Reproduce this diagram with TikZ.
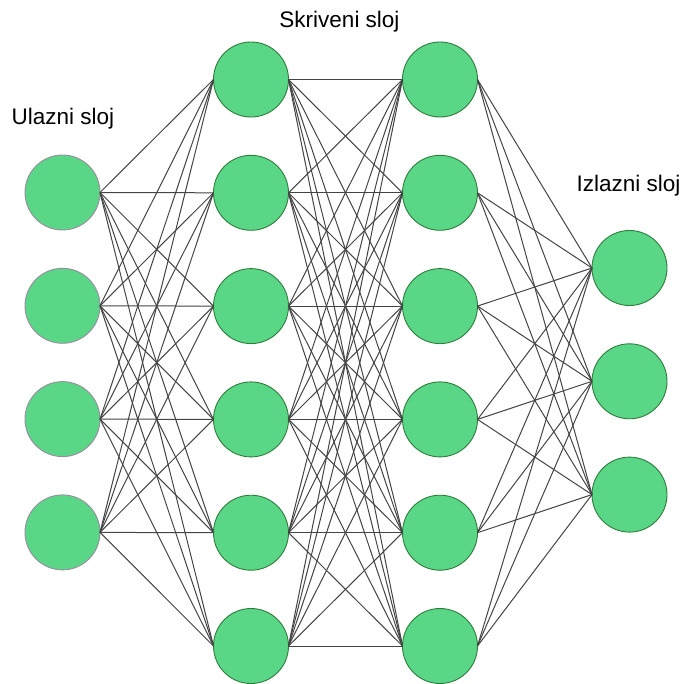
\documentclass[tikz,border=0pt]{standalone}
\usepackage{fontspec}
\setmainfont{Liberation Sans}
\usetikzlibrary{calc}

\definecolor{neuron}{HTML}{5AD687}
\definecolor{rubzel}{HTML}{2E7D3C}
\definecolor{rubsiv}{HTML}{9A8CA0}
\definecolor{veza}{HTML}{444444}

\begin{document}
\begin{tikzpicture} [x=1pt, y=-1pt]
\useasboundingbox (0,0) rectangle (683,684);
\tikzset{
  sloj/.style={circle, fill=neuron, draw=rubzel, line width=0.9pt,
    minimum size=75pt, inner sep=0pt, outer sep=0pt},
  ulaz/.style={sloj, draw=rubsiv},
  veza/.style={draw=veza, line width=1pt},
  natpis/.style={anchor=base, font=\fontsize{22.5}{27}\selectfont}
}
% ulazni sloj
\foreach \i in {1,...,4}
  \node[ulaz] (u\i) at (62.5, {192.5+113.3*(\i-1)}) {};
% skriveni slojevi
\foreach \j in {1,...,6} {
  \node[sloj] (a\j) at (251, {79.5+113.3*(\j-1)}) {};
  \node[sloj] (b\j) at (440, {79.5+113.3*(\j-1)}) {};
}
% izlazni sloj
\foreach \k in {1,...,3}
  \node[sloj] (z\k) at (629.5, {268+113.3*(\k-1)}) {};
% veze
\foreach \i in {1,...,4}
  \foreach \j in {1,...,6}
    \draw[veza] (u\i.east) -- (a\j.west);
\foreach \i in {1,...,6}
  \foreach \j in {1,...,6}
    \draw[veza] (a\i.east) -- (b\j.west);
\foreach \i in {1,...,6}
  \foreach \k in {1,...,3}
    \draw[veza] (b\i.east) -- (z\k.west);
% natpisi
\node[natpis] (nu) at (63,125) {Ulazni sloj};
\node[natpis] (ns) at (339.5,28) {Skriveni sloj};
\node[natpis] (nz) at (628.5,192) {Izlazni sloj};
\end{tikzpicture}
\end{document}
